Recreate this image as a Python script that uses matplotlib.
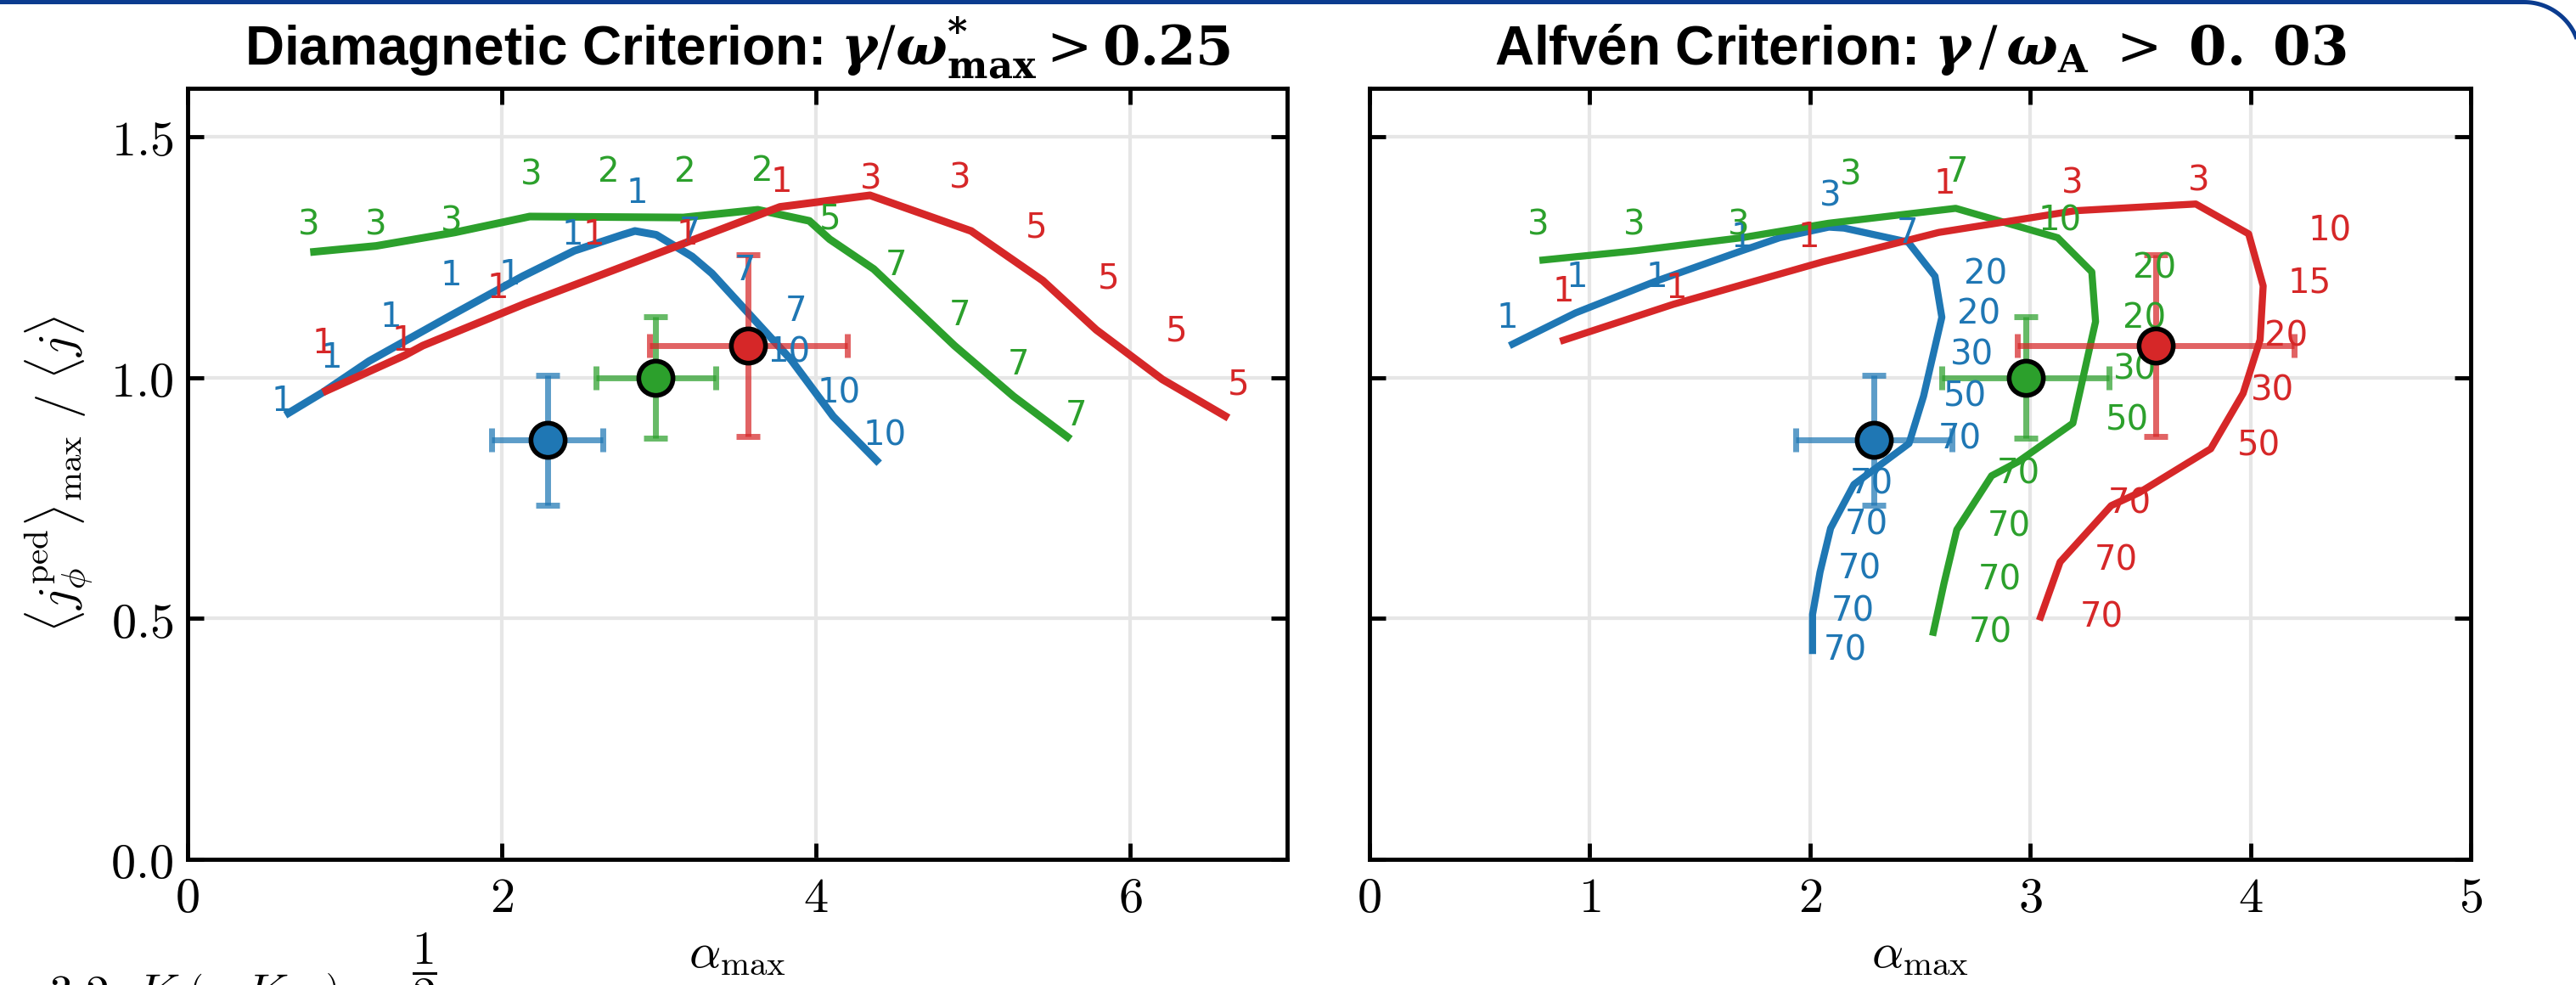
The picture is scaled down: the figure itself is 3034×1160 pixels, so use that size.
import numpy as np
import matplotlib
matplotlib.use("Agg")
import matplotlib.pyplot as plt
from matplotlib.ticker import FixedLocator, FuncFormatter
from matplotlib.lines import Line2D

plt.rcParams['mathtext.fontset'] = 'cm'

c_blue, c_green, c_red = '#1f77b4', '#2ca02c', '#d62728'

# measured operating points (alpha_max, <j>max/<j>) with errors
exp_alpha = [2.29, 2.98, 3.57]
exp_alpha_err = [0.355, 0.38, 0.63]
exp_j = [0.87, 1.00, 1.066]
exp_j_err = [0.135, 0.126, 0.188]
exp_colors = [c_blue, c_green, c_red]

# --- diamagnetic criterion: stability boundaries
dia_blue_x = [0.622, 0.861, 1.156, 1.656, 2.133, 2.462, 2.768, 2.848, 2.984, 3.212, 3.338, 3.841, 4.110, 4.403]
dia_blue_y = [0.922, 0.969, 1.034, 1.125, 1.210, 1.263, 1.296, 1.304, 1.296, 1.251, 1.216, 1.037, 0.919, 0.822]
dia_green_x = [0.781, 1.201, 1.701, 2.178, 3.155, 3.630, 3.958, 4.087, 4.368, 4.882, 5.257, 5.620]
dia_green_y = [1.260, 1.273, 1.301, 1.334, 1.332, 1.348, 1.325, 1.287, 1.225, 1.066, 0.961, 0.872]
dia_red_x = [0.861, 1.383, 1.497, 2.155, 2.609, 3.771, 4.344, 4.988, 5.444, 5.784, 6.205, 6.626]
dia_red_y = [0.969, 1.046, 1.066, 1.154, 1.210, 1.354, 1.378, 1.304, 1.201, 1.099, 0.996, 0.916]

# most unstable toroidal mode number along each boundary
dia_blue_n = ['1', '1', '1', '1', '1', '1', '1', '7', '7', '7', '10', '10', '10']
dia_blue_nx = [0.600, 0.917, 1.292, 1.678, 2.053, 2.451, 2.859, 3.200, 3.548, 3.876, 3.830, 4.145, 4.438]
dia_blue_ny = [0.949, 1.040, 1.125, 1.210, 1.213, 1.296, 1.381, 1.301, 1.222, 1.137, 1.052, 0.967, 0.878]
dia_green_n = ['3', '3', '3', '3', '2', '2', '2', '5', '7', '7', '7', '7']
dia_green_nx = [0.770, 1.197, 1.678, 2.189, 2.678, 3.166, 3.660, 4.091, 4.513, 4.917, 5.292, 5.655]
dia_green_ny = [1.316, 1.316, 1.322, 1.420, 1.425, 1.426, 1.428, 1.328, 1.231, 1.128, 1.025, 0.919]
dia_red_n = ['1', '1', '1', '1', '1', '1', '3', '3', '5', '5', '5', '5']
dia_red_nx = [0.861, 1.372, 1.974, 2.587, 3.178, 3.778, 4.349, 4.917, 5.402, 5.861, 6.293, 6.689]
dia_red_ny = [1.069, 1.075, 1.184, 1.296, 1.296, 1.404, 1.410, 1.413, 1.310, 1.204, 1.096, 0.985]

# --- Alfven criterion: stability boundaries
alf_blue_x = [0.636, 0.936, 1.296, 1.691, 1.863, 2.086, 2.155, 2.446, 2.568, 2.599, 2.516, 2.450, 2.200, 2.094, 2.046, 2.012, 2.012]
alf_blue_y = [1.066, 1.134, 1.199, 1.263, 1.290, 1.312, 1.310, 1.281, 1.210, 1.125, 0.961, 0.863, 0.778, 0.687, 0.596, 0.508, 0.426]
alf_green_x = [0.772, 1.209, 1.690, 2.084, 2.662, 3.125, 3.280, 3.297, 3.194, 2.945, 2.825, 2.667, 2.609, 2.557]
alf_green_y = [1.243, 1.263, 1.290, 1.320, 1.351, 1.290, 1.219, 1.116, 0.905, 0.825, 0.796, 0.684, 0.573, 0.464]
alf_red_x = [0.866, 1.381, 2.058, 2.585, 3.203, 3.752, 3.992, 4.058, 4.044, 3.967, 3.820, 3.495, 3.368, 3.136, 3.042]
alf_red_y = [1.075, 1.152, 1.240, 1.301, 1.346, 1.360, 1.298, 1.190, 1.078, 0.967, 0.852, 0.761, 0.734, 0.617, 0.496]

alf_blue_n = ['1', '1', '1', '1', '3', '7', '20', '20', '30', '50', '70', '70', '70', '70', '70', '70']
alf_blue_nx = [0.626, 0.943, 1.304, 1.690, 2.093, 2.444, 2.799, 2.765, 2.736, 2.705, 2.679, 2.281, 2.256, 2.226, 2.195, 2.161]
alf_blue_ny = [1.122, 1.207, 1.207, 1.290, 1.375, 1.298, 1.213, 1.131, 1.046, 0.960, 0.872, 0.778, 0.693, 0.602, 0.514, 0.432]
alf_green_n = ['3', '3', '3', '3', '7', '10', '20', '20', '30', '50', '70', '70', '70', '70']
alf_green_nx = [0.767, 1.201, 1.676, 2.187, 2.670, 3.134, 3.563, 3.520, 3.477, 3.439, 2.945, 2.904, 2.861, 2.818]
alf_green_ny = [1.316, 1.316, 1.316, 1.419, 1.425, 1.325, 1.225, 1.122, 1.016, 0.911, 0.799, 0.690, 0.579, 0.470]
alf_red_n = ['1', '1', '1', '1', '3', '3', '10', '15', '20', '30', '50', '70', '70', '70']
alf_red_nx = [0.880, 1.395, 1.995, 2.611, 3.191, 3.766, 4.360, 4.270, 4.164, 4.100, 4.040, 3.452, 3.391, 3.325]
alf_red_ny = [1.178, 1.184, 1.290, 1.401, 1.402, 1.407, 1.303, 1.196, 1.084, 0.972, 0.858, 0.737, 0.620, 0.502]

W, H = 3034, 1160
fig = plt.figure(figsize=(W / 100, H / 100), dpi=100)
ax1 = fig.add_axes([0.0728, 0.1276, 0.4269, 0.7827])
ax2 = fig.add_axes([0.5316, 0.1276, 0.4275, 0.7827])

label_font = dict(family='DejaVu Sans', fontsize=29)


def draw_panel(ax, lines, labels, lw):
	for (xs, ys), c in zip(lines, [c_blue, c_green, c_red]):
		ax.plot(xs, ys, color=c, lw=lw, solid_capstyle='butt', zorder=2)
	for (txt, xs, ys), c in zip(labels, [c_blue, c_green, c_red]):
		for t, x, y in zip(txt, xs, ys):
			ax.text(x, y, t, color=c, ha='center', va='center', zorder=4, **label_font)
	for x, xe, y, ye, c in zip(exp_alpha, exp_alpha_err, exp_j, exp_j_err, exp_colors):
		ax.errorbar(x, y, xerr=xe, yerr=ye, fmt='none', ecolor=c, alpha=0.72,
					elinewidth=5, capsize=10, capthick=5, zorder=3)
		ax.plot(x, y, 'o', ms=29, mfc=c, mec='k', mew=4, zorder=5)

	ax.set_ylim(0, 1.6)
	ax.yaxis.set_major_locator(FixedLocator([0, 0.5, 1.0, 1.5]))
	ax.yaxis.set_major_formatter(FuncFormatter(lambda v, p: '$%.1f$' % v))
	ax.xaxis.set_major_formatter(FuncFormatter(lambda v, p: '$%d$' % round(v)))
	ax.grid(True, color='#e6e6e6', lw=3)
	ax.set_axisbelow(True)
	ax.tick_params(direction='in', length=14, width=3.5, top=True, right=True,
				   labelsize=42, pad=12)
	for s in ax.spines.values():
		s.set_linewidth(3.5)
	ax.set_xlabel(r'$\alpha_{\rm max}$', fontsize=42, labelpad=6)


draw_panel(ax1,
		   [(dia_blue_x, dia_blue_y), (dia_green_x, dia_green_y), (dia_red_x, dia_red_y)],
		   [(dia_blue_n, dia_blue_nx, dia_blue_ny), (dia_green_n, dia_green_nx, dia_green_ny),
			(dia_red_n, dia_red_nx, dia_red_ny)], 6.5)
ax1.set_xlim(0, 7)
ax1.xaxis.set_major_locator(FixedLocator([0, 2, 4, 6]))
ax1.set_ylabel(r'$\langle j_\phi^{\rm ped} \rangle_{\rm max}\ /\ \langle j \rangle$', fontsize=42)
ax1.yaxis.set_label_coords(-0.085, 0.5)

draw_panel(ax2,
		   [(alf_blue_x, alf_blue_y), (alf_green_x, alf_green_y), (alf_red_x, alf_red_y)],
		   [(alf_blue_n, alf_blue_nx, alf_blue_ny), (alf_green_n, alf_green_nx, alf_green_ny),
			(alf_red_n, alf_red_nx, alf_red_ny)], 6.0)
ax2.set_xlim(0, 5)
ax2.xaxis.set_major_locator(FixedLocator([0, 1, 2, 3, 4, 5]))
ax2.tick_params(labelleft=False)

title_kw = dict(fontsize=46, fontweight='bold', family='Liberation Sans',
				math_fontfamily='dejavuserif', pad=20)
ax1.set_title('Diamagnetic Criterion: '
			  r'$\mathbfit{\gamma}/\mathbfit{\omega}^{\mathbf{*}}_{\mathbf{max}} > \mathbf{0.25}$', **title_kw)
ax2.set_title('Alfvén Criterion: '
			  r'$\mathbfit{\gamma}\,/\,\mathbfit{\omega}_{\mathbf{A}}\ >\ \mathbf{0.}\ \mathbf{03}$', **title_kw)

# slide frame: blue top rule bending down at the right corner
r_px, top_px, cx_px = 66, H - 2.5, 2973
t = np.linspace(np.pi / 2, 0, 40)
fx = np.concatenate([[-20], cx_px + r_px * np.cos(t), [cx_px + r_px]]) / W
fy = np.concatenate([[top_px], top_px - r_px + r_px * np.sin(t), [-200]]) / H
fig.add_artist(Line2D(fx, fy, transform=fig.transFigure, color='#0b3c8f', lw=3.6,
					  solid_capstyle='butt', clip_on=False))

# equation running off the bottom edge
fig.text(57 / W, 0.013, r'$3.2\ \ K\ \left(\ \ \ K\ \ \ \right)$', fontsize=40, va='top')
fig.text(500 / W, (H - 1097) / H, r'$\dfrac{1}{2}$', fontsize=40, ha='center', va='top')

fig.savefig('out.png', dpi=100)
